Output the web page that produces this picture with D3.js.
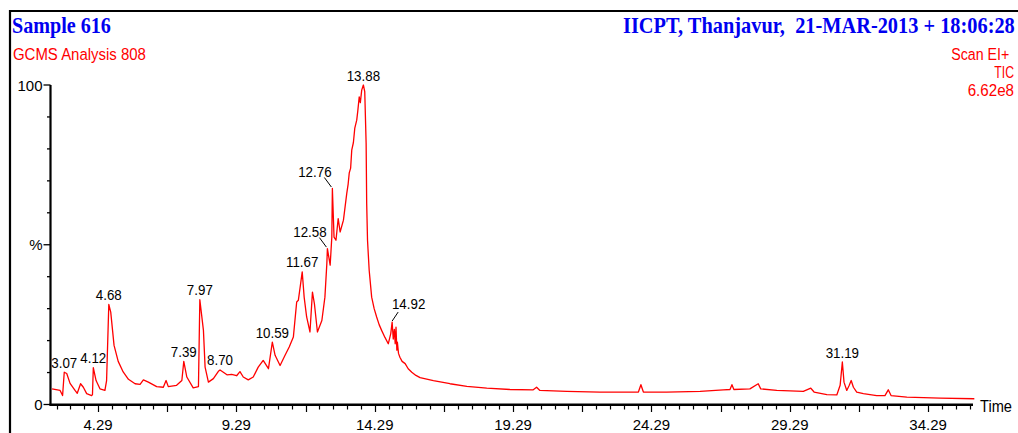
<!DOCTYPE html>
<html>
<head>
<meta charset="utf-8">
<script src="https://cdn.jsdelivr.net/npm/d3@7"></script>
<style>
  html, body { margin: 0; padding: 0; background: #fff; }
  svg { display: block; }
  text { font-family: "Liberation Sans", Arial, sans-serif; }
</style>
</head>
<body>
<svg id="chart" width="1018" height="433"></svg>
<script>
'use strict';

// Retention time (min) of the TIC trace
var times = [2.63, 2.92, 3.01, 3.07, 3.16, 3.28, 3.46, 3.54, 3.66, 3.76, 3.88, 4.06, 4.09, 4.12, 4.22,
  4.36, 4.54, 4.60, 4.68, 4.75, 4.87, 5.02, 5.20, 5.39, 5.63, 5.81, 5.93, 6.11, 6.41, 6.65, 6.75,
  6.83, 7.13, 7.32, 7.39, 7.50, 7.73, 7.92, 7.97, 8.10, 8.16, 8.28, 8.46, 8.64, 8.70, 8.82, 8.95,
  9.12, 9.30, 9.42, 9.54, 9.72, 9.90, 10.08, 10.26, 10.45, 10.59, 10.69, 10.87, 11.05, 11.20, 11.35,
  11.47, 11.53, 11.62, 11.67, 11.74, 11.83, 11.95, 12.04, 12.11, 12.22, 12.38, 12.49, 12.56, 12.58,
  12.68, 12.74, 12.76, 12.82, 12.89, 12.97, 13.04, 13.16, 13.28, 13.33, 13.37, 13.42, 13.46, 13.52,
  13.57, 13.64, 13.68, 13.73, 13.77, 13.82, 13.88, 13.93, 13.98, 14.00, 14.03, 14.09, 14.18, 14.27,
  14.36, 14.45, 14.54, 14.66, 14.78, 14.87, 14.92, 14.96, 15.00, 15.03, 15.06, 15.09, 15.11, 15.15,
  15.20, 15.28, 15.39, 15.50, 15.63, 15.78, 15.93, 16.41, 17.01, 17.62, 18.34, 19.18, 20.02, 20.14,
  20.26, 21.23, 22.43, 23.82, 23.91, 24.00, 24.84, 26.05, 26.89, 27.13, 27.20, 27.27, 27.85, 28.15,
  28.24, 28.82, 29.78, 30.05, 30.17, 30.63, 30.99, 31.11, 31.19, 31.25, 31.35, 31.44, 31.51, 31.59,
  31.71, 31.95, 32.43, 32.73, 32.85, 32.95, 33.52, 34.72, 35.96];

// Relative abundance (%)
var intensity = [4.9, 4.4, 2.8, 10.1, 9.7, 6.6, 4.4, 3.5, 6.5, 5.4, 3.4, 2.8, 3.1, 11.5, 7.5,
  4.9, 4.4, 7.5, 31.3, 28.9, 18.5, 13.5, 10.2, 7.9, 6.5, 6.3, 7.7, 7.0, 5.6, 5.4, 7.5,
  5.6, 6.0, 7.5, 13.5, 8.6, 5.2, 5.6, 32.8, 23.2, 11.7, 7.0, 8.1, 10.4, 10.8, 10.1, 9.3,
  9.4, 9.0, 10.3, 8.6, 7.7, 8.6, 11.7, 13.8, 11.2, 19.5, 15.4, 12.2, 15.4, 18.0, 21.1,
  32.1, 32.6, 38.3, 41.5, 33.6, 27.4, 22.7, 35.2, 31.6, 22.7, 26.3, 33.6, 44.1, 48.8,
  43.6, 52.4, 67.6, 52.4, 51.4, 58.2, 54.0, 57.7, 66.1, 69.0, 72.5, 74.0, 79.6, 82.0,
  86.5, 89.0, 92.0, 96.3, 94.5, 98.4, 100, 97.9, 81.7, 62.9, 51.4, 42.0, 33.6, 30.0,
  27.4, 25.0, 23.2, 21.0, 19.0, 22.2, 25.8, 20.5, 23.5, 19.0, 24.2, 17.0, 19.5, 16.0,
  14.8, 13.5, 12.8, 11.2, 10.1, 9.1, 8.4, 7.5, 6.5, 5.7, 5.1, 4.7, 4.6, 5.4,
  4.4, 4.1, 3.9, 3.9, 6.2, 3.9, 3.9, 4.1, 4.6, 4.7, 6.2, 4.7, 4.9, 6.5,
  4.9, 4.4, 4.1, 5.1, 3.9, 3.1, 3.0, 6.0, 13.3, 7.0, 4.4, 6.0, 7.5, 5.4,
  3.9, 3.4, 2.8, 2.8, 4.6, 2.8, 2.3, 2.0, 1.8];

// Labelled peaks
var peakTimes = [3.07, 4.12, 4.68, 7.39, 7.97, 8.70, 10.59, 11.67, 12.58, 12.76, 13.88, 14.92, 31.19];
var leaderLeft = [12.58, 12.76];
var leaderRight = [14.92];

// Axes
var xMajorTicks = [4.29, 9.29, 14.29, 19.29, 24.29, 29.29, 34.29];
var xTickLabels = ['4.29', '9.29', '14.29', '19.29', '24.29', '29.29', '34.29'];
var yMajorTicks = [0, 50, 100];
var yTickLabels = ['0', '%', '100'];

var svg = d3.select('#chart');
var red = '#ff0000';
var blue = '#0000f0';

var x = d3.scaleLinear().domain([2.555, 35.912]).range([50, 973]);
var y = d3.scaleLinear().domain([0, 100]).range([404.5, 85]);

// Texte ajusté à une largeur donnée (étirement vertical sy)
function fitText(str, left, base, width, sy, size, color, serif) {
  var t = svg.append('text').text(str)
    .style('white-space', 'pre')
    .style('font-size', size + 'px')
    .attr('fill', color);
  if (serif) {
    t.style('font-family', '"Liberation Serif", "Times New Roman", serif').style('font-weight', 'bold');
  }
  var w = t.node().getComputedTextLength();
  t.attr('transform', 'translate(' + left + ',' + base + ') scale(' + (width / w) + ',' + sy + ')');
  return t;
}

// Frame
svg.append('path')
  .attr('d', 'M10,433V11H1018')
  .attr('fill', 'none').attr('stroke', '#000').attr('stroke-width', 2.2);

// Headers
fitText('Sample 616', 12, 33, 99, 1.18, 20, blue, true);
fitText('IICPT, Thanjavur,  21-MAR-2013 + 18:06:28', 623, 33, 392, 1.18, 20, blue, true);
fitText('GCMS Analysis 808', 13, 60, 133, 1.15, 15, red);
fitText('Scan EI+', 951.3, 60, 58, 1.15, 15, red);
fitText('TIC', 994.3, 77.7, 19.7, 1.15, 15, red);
fitText('6.62e8', 967.7, 95.7, 46.3, 1.15, 15, red);

// Y axis
var yAxis = svg.append('g');
yAxis.append('line')
  .attr('x1', 50.5).attr('x2', 50.5).attr('y1', y(100)).attr('y2', y(0) + 1)
  .attr('stroke', '#000').attr('stroke-width', 2.2);
yAxis.selectAll('line.tick').data(d3.range(0, 101, 10)).enter().append('line')
  .attr('class', 'tick')
  .attr('x1', function(d) { return yMajorTicks.indexOf(d) >= 0 ? 43.5 : 47; })
  .attr('x2', 50.5)
  .attr('y1', function(d) { return y(d); }).attr('y2', function(d) { return y(d); })
  .attr('stroke', '#000').attr('stroke-width', 1.3);
yAxis.selectAll('text').data(yMajorTicks).enter().append('text')
  .text(function(d, i) { return yTickLabels[i]; })
  .attr('x', 42.5).attr('y', function(d) { return y(d) + 5.5; })
  .attr('text-anchor', 'end')
  .style('font-size', '15px').attr('fill', '#000');

// X axis
var xAxis = svg.append('g');
xAxis.append('line')
  .attr('x1', 49.5).attr('x2', 973).attr('y1', 404.8).attr('y2', 404.8)
  .attr('stroke', '#000').attr('stroke-width', 2.4);
var minorTicks = d3.range(0, 67).map(function(i) { return 2.79 + i * 0.5; })
  .filter(function(t) { return t < 35.91; });
xAxis.selectAll('line.tick').data(minorTicks).enter().append('line')
  .attr('class', 'tick')
  .attr('x1', function(d) { return Math.round(x(d)) + 0.5; })
  .attr('x2', function(d) { return Math.round(x(d)) + 0.5; })
  .attr('y1', 405)
  .attr('y2', function(d, i) { return (i - 3) % 5 === 0 ? 412 : 409.5; })
  .attr('stroke', '#000').attr('stroke-width', 1.2);
xAxis.selectAll('text').data(xMajorTicks).enter().append('text')
  .text(function(d, i) { return xTickLabels[i]; })
  .attr('x', function(d) { return x(d); }).attr('y', 430)
  .attr('text-anchor', 'middle')
  .style('font-size', '15px').attr('fill', '#000');
fitText('Time', 980, 411.5, 32, 1.15, 15, '#000');

// Trace
var pts = times.map(function(t, i) { return [t, intensity[i]]; });
var line = d3.line()
  .x(function(d) { return x(d[0]); })
  .y(function(d) { return y(d[1]); });
svg.append('path').datum(pts)
  .attr('d', line)
  .attr('fill', 'none').attr('stroke', red).attr('stroke-width', 1.3)
  .attr('stroke-linejoin', 'round');

// Peak labels
peakTimes.forEach(function(t) {
  var v = intensity[times.indexOf(t)];
  var px = x(t), py = y(v);
  var tx = px, ty = py - 4.5;
  if (leaderLeft.indexOf(t) >= 0) {
    svg.append('line').attr('x1', px - 1).attr('y1', py - 1.5).attr('x2', px - 8).attr('y2', py - 11)
      .attr('stroke', '#000').attr('stroke-width', 1);
    tx = px - 17.5; ty = py - 12;
  } else if (leaderRight.indexOf(t) >= 0) {
    svg.append('line').attr('x1', px).attr('y1', py - 1).attr('x2', px + 6).attr('y2', py - 10)
      .attr('stroke', '#000').attr('stroke-width', 1);
    tx = px + 16.5; ty = py - 13.5;
  }
  svg.append('text').text(t.toFixed(2))
    .attr('transform', 'translate(' + tx + ',' + ty + ') scale(0.89,1)')
    .attr('text-anchor', 'middle')
    .style('font-size', '15px').attr('fill', '#000');
});
</script>
</body>
</html>
